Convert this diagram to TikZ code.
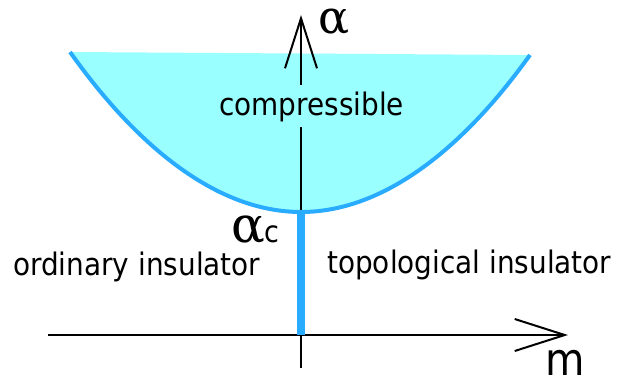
\documentclass[tikz,border=0pt]{standalone}
\usepackage{fontspec}
\setmainfont{DejaVu Sans}[FakeStretch=0.9]
\newfontfamily\greekfont{DejaVu Serif}
\usepackage{tikz}
\usetikzlibrary{arrows.meta}
\definecolor{phasefill}{RGB}{153,255,255}
\definecolor{phaseline}{RGB}{41,171,255}

\begin{document}
\begin{tikzpicture}[
        x=1pt, y=-1pt,
        axis/.style = {line width=2pt, -{Straight Barb[length=50pt, width=32pt, line width=2pt]}},
        lbl/.style = {inner sep=0pt, anchor=base west, font=\fontsize{31}{31}\selectfont},
        big/.style = {inner sep=0pt, anchor=base west},
    ]
        \useasboundingbox (0,0) rectangle (628,381);
        % compressible region
        \fill[phasefill] (70,52) parabola bend (301,212) (530,55) -- cycle;
        \coordinate (vbot) at (301,368);
        \coordinate (vtop) at (301,15);
        \coordinate (hleft) at (48,335);
        \coordinate (hright) at (568,335);
        \coordinate (crit) at (301,212);
        \coordinate (origin) at (301,335);
        \draw[axis] (vbot) -- (vtop);
        \node[lbl, fill=phasefill, inner ysep=6pt] (comp) at (219,115) {compressible};
        \draw[phaseline, line width=4pt] (70,52) parabola bend (crit) (530,55);
        \draw[axis] (hleft) -- (hright);
        \draw[phaseline, line width=8pt] (crit) -- (origin);
        % labels
        \node[big] (alpha) at (318,33) {\greekfont\fontsize{46}{46}\selectfont α};
        \node[big] (alphac) at (231,242) {{\greekfont\fontsize{50}{50}\selectfont α}{\fontsize{30}{30}\selectfont c}};
        \node[big] (mlabel) at (545,375) {\fontsize{45}{45}\selectfont m};
        \node[lbl] (ord) at (13,275) {ordinary insulator};
        \node[lbl] (topo) at (327,273) {topological insulator};
    \end{tikzpicture}
\end{document}
